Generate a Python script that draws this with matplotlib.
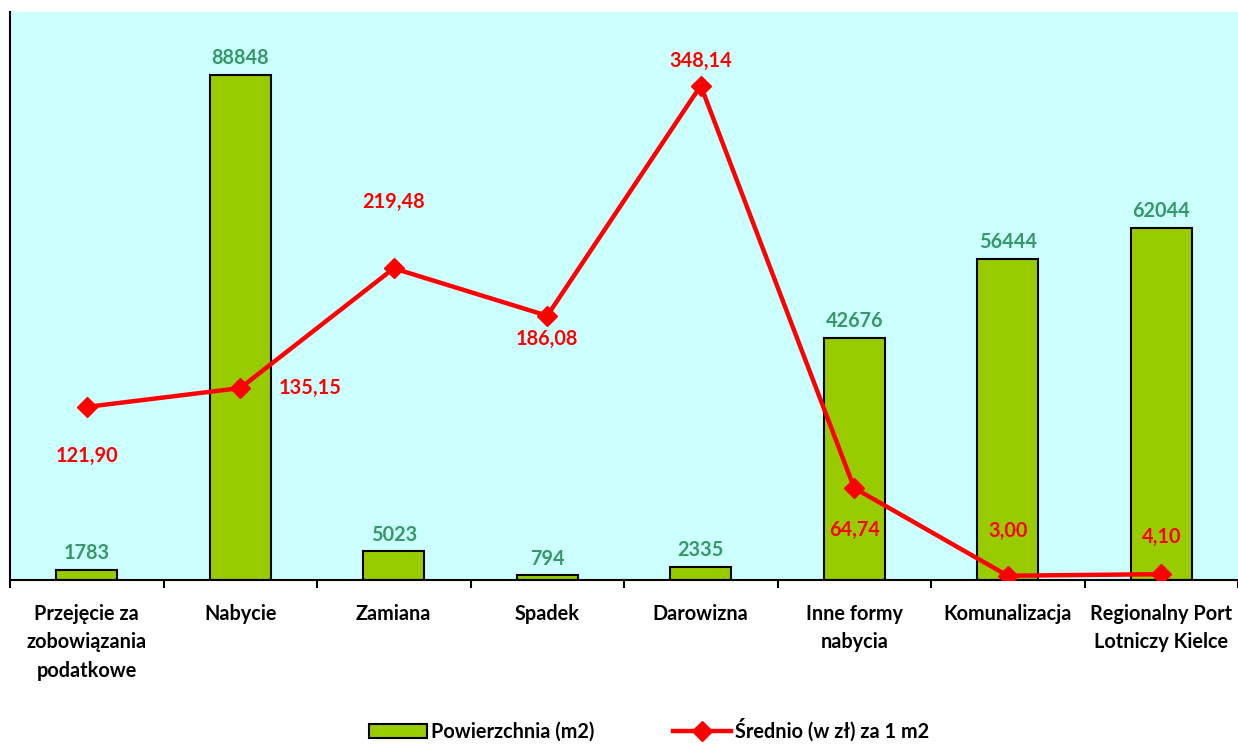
import matplotlib
matplotlib.use("Agg")
import matplotlib.pyplot as plt
from matplotlib.patches import Patch
from matplotlib.lines import Line2D

plt.rcParams['font.family'] = ['Lato', 'DejaVu Sans']
plt.rcParams['font.weight'] = 'bold'

categories = ["Przejęcie za\nzobowiązania\npodatkowe", "Nabycie", "Zamiana", "Spadek",
              "Darowizna", "Inne formy\nnabycia", "Komunalizacja",
              "Regionalny Port\nLotniczy Kielce"]
area = [1783, 88848, 5023, 794, 2335, 42676, 56444, 62044]
price = [121.90, 135.15, 219.48, 186.08, 348.14, 64.74, 3.00, 4.10]
price_labels = ["121,90", "135,15", "219,48", "186,08", "348,14", "64,74", "3,00", "4,10"]
# where each price label sits relative to its point (points)
price_offsets = [(0, -35), (50, 0), (0, 48), (0, -17), (0, 18), (0, -30), (0, 32), (0, 27)]

bar_color = "#99CC00"
line_color = "#FF0000"
label_green = "#339966"
fs = 14.3

fig = plt.figure(figsize=(12.38, 7.44), dpi=100)
ax = fig.add_axes([10 / 1238, 164 / 744, 1228 / 1238, 568 / 744])
ax.set_facecolor("#CCFFFF")

x = list(range(len(categories)))
ax.bar(x, area, width=0.4, color=bar_color, edgecolor="black", linewidth=1.5, zorder=2)
ax.set_ylim(0, 100000)
ax.set_xlim(-0.5, len(categories) - 0.5)
for xi, v in zip(x, area):
    ax.annotate(str(v), (xi, v), xytext=(0, 5), textcoords="offset points",
                ha="center", va="bottom", color=label_green, fontsize=fs, fontweight="bold")

ax.set_yticks([])
ax.set_xticks(x)
ax.set_xticklabels(categories, fontsize=fs, fontweight="bold", linespacing=1.55)
ax.tick_params(axis="x", which="major", length=0, pad=17)
ax.set_xticks([i - 0.5 for i in range(len(categories) + 1)], minor=True)
ax.tick_params(axis="x", which="minor", length=6, width=1.5, direction="out")
for s in ["top", "right"]:
    ax.spines[s].set_visible(False)
ax.spines["left"].set_linewidth(1.5)
ax.spines["bottom"].set_linewidth(1.5)

ax2 = ax.twinx()
ax2.plot(x, price, color=line_color, linewidth=3.2, marker="D", markersize=10, zorder=3)
ax2.set_ylim(0, 400)
ax2.set_yticks([])
for s in ["top", "right", "left", "bottom"]:
    ax2.spines[s].set_visible(False)
for xi, v, lab, off in zip(x, price, price_labels, price_offsets):
    ax2.annotate(lab, (xi, v), xytext=off, textcoords="offset points",
                 ha="center", va="center", color=line_color, fontsize=fs, fontweight="bold")

handles = [Patch(facecolor=bar_color, edgecolor="black", linewidth=1.5),
           Line2D([], [], color=line_color, linewidth=3.2, marker="D", markersize=10)]
fig.legend(handles, ["Powierzchnia (m2)", "Średnio (w zł) za 1 m2"], loc="center",
           bbox_to_anchor=(649 / 1238, 14 / 744), ncol=2, frameon=False, fontsize=fs,
           handlelength=2.9, handletextpad=0.2, columnspacing=4.0)

fig.savefig("out.png", dpi=100, facecolor="white")
